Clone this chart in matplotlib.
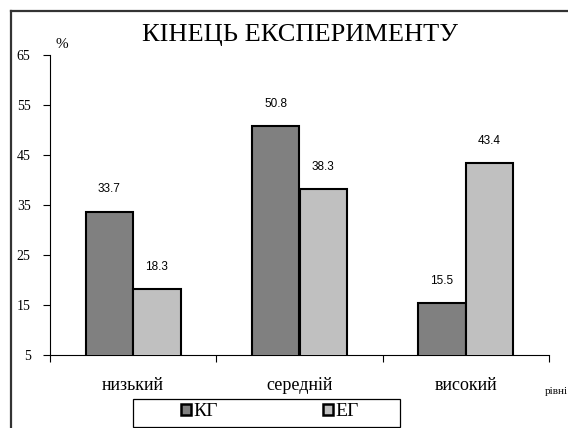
import matplotlib
matplotlib.use("Agg")
import matplotlib.pyplot as plt
from matplotlib.patches import Rectangle, Patch
from matplotlib.lines import Line2D
import numpy as np

# data
levels = ["низький", "середній", "високий"]
kg_vals = [33.7, 50.8, 15.5]
eg_vals = [18.3, 38.3, 43.4]
series_names = ["КГ", "ЕГ"]
y_ticks = [5, 15, 25, 35, 45, 55, 65]

SERIF = "Liberation Serif"
SANS = "Liberation Sans"
DARK = "#808080"
LIGHT = "#c0c0c0"

W, H = 568, 428
fig = plt.figure(figsize=(W / 100, H / 100), dpi=100)

# outer chart border (left + top visible, rest runs off the picture)
fig.add_artist(Line2D([11 / W, 11 / W], [0, 1 - 11 / H], color="#333333", lw=1.6,
                      transform=fig.transFigure))
fig.add_artist(Line2D([11 / W, 1], [1 - 11 / H, 1 - 11 / H], color="#333333", lw=1.6,
                      transform=fig.transFigure))

ax = fig.add_axes([50 / W, 1 - 355 / H, (549 - 50) / W, (355 - 55) / H])
x = np.arange(len(levels))
bw = 0.286
b1 = ax.bar(x - bw / 2, kg_vals, bw, bottom=0, color=DARK, edgecolor="black", lw=1.5, zorder=3)
b2 = ax.bar(x + bw / 2, eg_vals, bw, bottom=0, color=LIGHT, edgecolor="black", lw=1.5, zorder=3)

ax.set_xlim(-0.5, len(levels) - 0.5)
ax.set_ylim(5, 65)
ax.set_yticks(y_ticks)
ax.set_yticklabels([str(v) for v in y_ticks], fontfamily=SERIF, fontsize=10)
ax.set_xticks(np.arange(len(levels) + 1) - 0.5)
ax.set_xticklabels([])
ax.tick_params(axis="y", direction="out", length=5, width=0.8, pad=9)
ax.tick_params(axis="x", direction="out", length=5, width=0.8)
for s in ["top", "right"]:
    ax.spines[s].set_visible(False)
ax.spines["left"].set_linewidth(0.8)
ax.spines["bottom"].set_linewidth(0.8)

# value labels
for bars, vals in [(b1, kg_vals), (b2, eg_vals)]:
    for r, v in zip(bars, vals):
        ax.annotate(f"{v:.1f}", (r.get_x() + r.get_width() / 2, v),
                    xytext=(0, 22), textcoords="offset pixels",
                    ha="center", va="center", fontfamily=SANS, fontsize=8.5)

# category labels
for xi, lab in zip(x, levels):
    ax.text(xi, -0.10, lab, transform=ax.get_xaxis_transform(), ha="center", va="center",
            fontfamily=SERIF, fontsize=13)

fig.text(300 / W, 1 - 35 / H, "КІНЕЦЬ ЕКСПЕРИМЕНТУ", ha="center", va="center",
         fontfamily=SERIF, fontsize=19)
fig.text(62 / W, 1 - 44 / H, "%", ha="center", va="center", fontfamily=SERIF, fontsize=11)
fig.text(556 / W, 1 - 391 / H, "рівні", ha="center", va="center", fontfamily=SERIF, fontsize=8)

# legend box
fig.add_artist(Rectangle((133 / W, 1 - 427 / H), 267 / W, 28 / H, transform=fig.transFigure,
                         facecolor="white", edgecolor="black", lw=0.9))
handles = [Patch(facecolor=DARK, edgecolor="black", lw=1.8),
           Patch(facecolor=LIGHT, edgecolor="black", lw=1.8)]
fig.legend(handles, series_names, loc="center", bbox_to_anchor=(270 / W, 1 - 412 / H),
           ncol=2, frameon=False, prop={"family": SERIF, "size": 14},
           handlelength=0.5, handleheight=0.5, handletextpad=0.15, columnspacing=5.4)

fig.savefig("out.png", dpi=100)
